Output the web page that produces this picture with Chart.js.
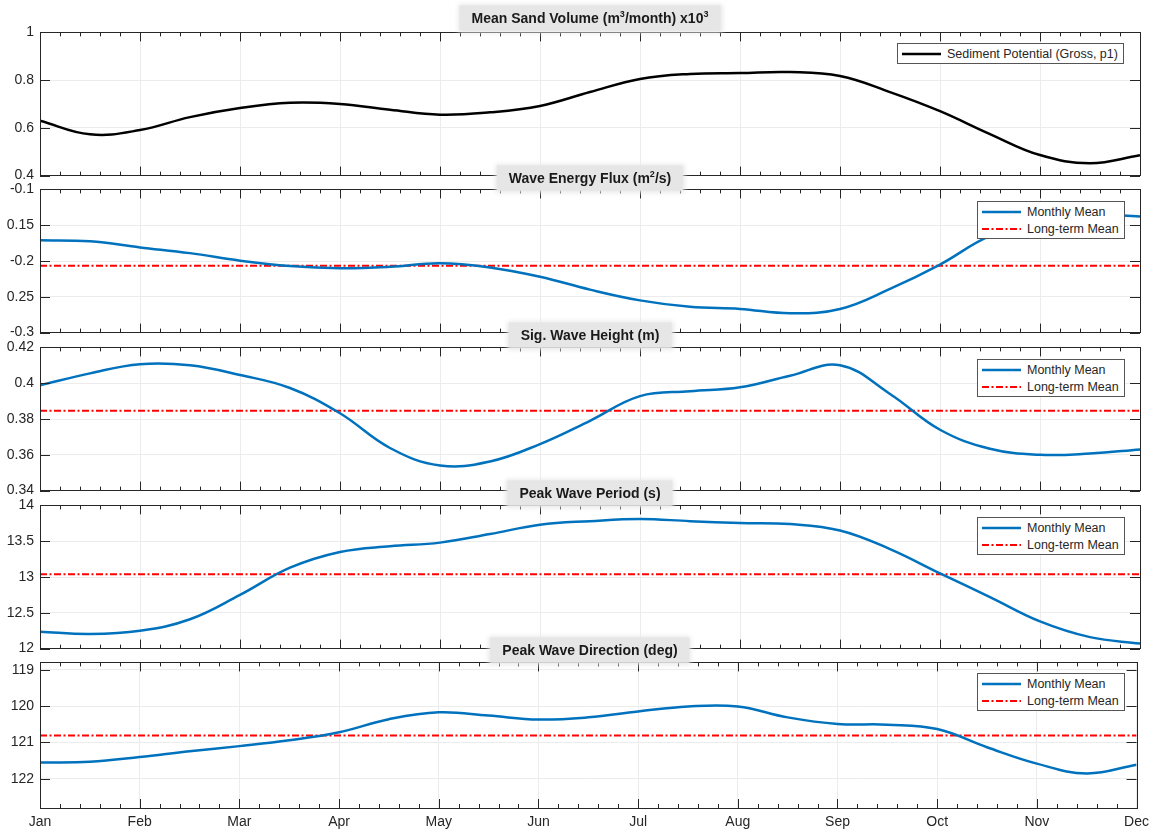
<!DOCTYPE html>
<html>
<head>
<meta charset="utf-8">
<script src="https://cdn.jsdelivr.net/npm/chart.js@4.4.0/dist/chart.umd.min.js"></script>
<style>
  html, body { margin: 0; padding: 0; background: #fff; }
  #wrap { position: relative; width: 1155px; height: 832px; overflow: hidden; font-family: "Liberation Sans", Arial, sans-serif; }
  .panel { position: absolute; left: 0; width: 1155px; }
  .ttl { position: absolute; transform: translate(-50%, -50%); background: #e6e6e6; box-shadow: 0 0 5px 2px #e6e6e6;
         font-weight: bold; font-size: 14px; line-height: 17px; padding: 4px 12px; white-space: nowrap; color: #1a1a1a; z-index: 5; }
  .ttl sup { font-size: 9px; line-height: 0; }
  .lg { position: absolute; background: #fff; border: 1px solid #555; font-size: 12.5px; color: #262626; z-index: 4; padding: 1px 5px 1px 4px; }
  .lg div { display: flex; align-items: center; height: 17px; white-space: nowrap; }
  .lg svg { margin-right: 6px; }
</style>
</head>
<body>
<div id="wrap"></div>
<script>
const months = ["Jan", "Feb", "Mar", "Apr", "May", "Jun", "Jul", "Aug", "Sep", "Oct", "Nov", "Dec"];
const monthPos = [0, 1, 2, 3, 4, 5, 6, 7, 8, 9, 10, 11];
const samplePos = [0, 0.5, 1, 1.5, 2, 2.5, 3, 3.5, 4, 4.5, 5, 5.5, 6, 6.5, 7, 7.5, 8, 8.5, 9, 9.5, 10, 10.5, 11];

const sandVolume = [0.63, 0.573, 0.591, 0.645, 0.683, 0.705, 0.70, 0.676, 0.655, 0.665, 0.692, 0.75,
  0.805, 0.826, 0.83, 0.834, 0.817, 0.75, 0.67, 0.574, 0.486, 0.452, 0.485];
const sandTicks = [0.4, 0.6, 0.8, 1];
const sandTickLabels = ["0.4", "0.6", "0.8", "1"];

const energyFlux = [-0.171, -0.1725, -0.181, -0.189, -0.1995, -0.207, -0.210, -0.208, -0.203, -0.209, -0.222, -0.24,
  -0.255, -0.264, -0.267, -0.273, -0.267, -0.239, -0.205, -0.165, -0.145, -0.135, -0.138];
const energyFluxMean = -0.2065;
const fluxTicks = [-0.3, -0.25, -0.2, -0.15, -0.1];
const fluxTickLabels = ["-0.3", "0.25", "-0.2", "0.15", "-0.1"];

const waveHeight = [0.3988, 0.4055, 0.4106, 0.410, 0.4046, 0.3973, 0.3832, 0.3638, 0.354, 0.3563, 0.366, 0.379,
  0.3928, 0.3955, 0.3977, 0.4042, 0.410, 0.394, 0.374, 0.3634, 0.360, 0.3607, 0.363];
const waveHeightMean = 0.3846;
const heightTicks = [0.34, 0.36, 0.38, 0.4, 0.42];
const heightTickLabels = ["0.34", "0.36", "0.38", "0.4", "0.42"];

const wavePeriod = [12.236, 12.204, 12.25, 12.41, 12.75, 13.13, 13.35, 13.43, 13.48, 13.6, 13.73, 13.78,
  13.81, 13.78, 13.755, 13.74, 13.65, 13.39, 13.05, 12.72, 12.38, 12.16, 12.07];
const wavePeriodMean = 13.04;
const periodTicks = [12, 12.5, 13, 13.5, 14];
const periodTickLabels = ["12", "12.5", "13", "13.5", "14"];

const waveDir = [121.55, 121.53, 121.40, 121.24, 121.10, 120.94, 120.72, 120.36, 120.17, 120.26, 120.37, 120.31,
  120.15, 120.01, 120.01, 120.31, 120.49, 120.51, 120.63, 121.13, 121.58, 121.85, 121.61];
const waveDirMean = 120.81;
const dirTicks = [119, 120, 121, 122];
const dirTickLabels = ["119", "120", "121", "122"];

const BLUE = "#0072BD";
const RED = "#ff0000";
const INK = "#262626";
const DASHDOT = [7, 2.5, 2, 2.5];

const wrap = document.getElementById("wrap");

function pts(ys) {
  return samplePos.map((x, i) => ({ x, y: ys[i] }));
}

// boxed axes with inward ticks, MATLAB style
const frame = {
  id: "frame",
  afterDatasetsDraw(chart) {
    const { ctx, chartArea: a, scales } = chart;
    const x = scales.x, y = scales.y;
    ctx.save();
    ctx.strokeStyle = INK;
    ctx.lineWidth = 1;
    ctx.beginPath();
    for (let i = 0; i <= 55; i++) {
      const px = Math.round(x.getPixelForValue(i / 5)) + 0.5;
      const len = i % 5 === 0 ? 9 : 4;
      ctx.moveTo(px, a.top); ctx.lineTo(px, a.top + len);
      ctx.moveTo(px, a.bottom); ctx.lineTo(px, a.bottom - len);
    }
    y.ticks.forEach((t) => {
      const py = Math.round(y.getPixelForValue(t.value)) + 0.5;
      ctx.moveTo(a.left, py); ctx.lineTo(a.left + 10, py);
      ctx.moveTo(a.right, py); ctx.lineTo(a.right - 10, py);
    });
    ctx.stroke();
    ctx.strokeRect(Math.round(a.left) + 0.5, Math.round(a.top) + 0.5, Math.round(a.right - a.left), Math.round(a.bottom - a.top));
    ctx.restore();
  },
};

function addTitle(html, cy) {
  const d = document.createElement("div");
  d.className = "ttl";
  d.style.left = "590px";
  d.style.top = cy + "px";
  d.innerHTML = html;
  wrap.appendChild(d);
}

function sample(color, dash) {
  const da = dash ? ` stroke-dasharray="${dash.join(",")}"` : "";
  return `<svg width="39" height="6"><line x1="0" y1="3" x2="39" y2="3" stroke="${color}" stroke-width="${dash ? 2 : 2.5}"${da}/></svg>`;
}

function addLegend(rows, left, top) {
  const d = document.createElement("div");
  d.className = "lg";
  d.style.left = left + "px";
  d.style.top = top + "px";
  d.innerHTML = rows.map(([label, color, dash]) => `<div>${sample(color, dash)}${label}</div>`).join("");
  wrap.appendChild(d);
}

function makePanel(p) {
  const last = !!p.last;
  const padTop = 12;
  const axisH = last ? 24 : 0;
  const padBottom = last ? 0 : 12;
  const h = padTop + p.height + axisH + padBottom;

  const box = document.createElement("div");
  box.className = "panel";
  box.style.top = (p.top - padTop) + "px";
  box.style.height = h + "px";
  const cv = document.createElement("canvas");
  box.appendChild(cv);
  wrap.appendChild(box);

  const datasets = [{
    data: pts(p.values),
    borderColor: p.color,
    borderWidth: 2.5,
    pointRadius: 0,
    tension: 0.4,
    fill: false,
  }];
  if (p.mean !== undefined) {
    datasets.push({
      data: [{ x: monthPos[0], y: p.mean }, { x: monthPos[11], y: p.mean }],
      borderColor: RED,
      borderWidth: 2,
      borderDash: DASHDOT,
      pointRadius: 0,
      fill: false,
    });
  }

  new Chart(cv, {
    type: "line",
    data: { datasets },
    options: {
      responsive: true,
      maintainAspectRatio: false,
      animation: false,
      layout: { padding: { top: padTop, bottom: padBottom, left: 0, right: 15 } },
      plugins: { legend: { display: false }, tooltip: { enabled: false } },
      scales: {
        x: {
          type: "linear",
          min: 0,
          max: 11,
          afterBuildTicks: (s) => { s.ticks = monthPos.map((v) => ({ value: v })); },
          afterFit: (s) => { s.height = axisH; },
          grid: { color: "#ececec", drawTicks: false },
          border: { display: false },
          ticks: {
            display: last,
            padding: 6,
            color: INK,
            font: { family: "Liberation Sans", size: 14 },
            maxRotation: 0,
            callback: (v) => months[v],
          },
        },
        y: {
          min: p.min,
          max: p.max,
          reverse: !!p.reverse,
          afterBuildTicks: (s) => { s.ticks = p.ticks.map((v) => ({ value: v })); },
          afterFit: (s) => { s.width = 40; },
          grid: { color: "#ececec", drawTicks: false },
          border: { display: false },
          ticks: {
            padding: 6,
            color: INK,
            font: { family: "Liberation Sans", size: 14 },
            callback: (v) => {
              const i = p.ticks.findIndex((t) => Math.abs(t - v) < 1e-9);
              return i >= 0 ? p.tickLabels[i] : "";
            },
          },
        },
      },
    },
    plugins: [frame],
  });
}

const monthlyRows = [["Monthly Mean", BLUE, null], ["Long-term Mean", RED, DASHDOT]];

makePanel({ top: 30, height: 148, values: sandVolume, color: "#000", min: 0.4, max: 1, ticks: sandTicks, tickLabels: sandTickLabels });
makePanel({ top: 187, height: 148, values: energyFlux, mean: energyFluxMean, color: BLUE, min: -0.3, max: -0.1, ticks: fluxTicks, tickLabels: fluxTickLabels });
makePanel({ top: 345, height: 148, values: waveHeight, mean: waveHeightMean, color: BLUE, min: 0.34, max: 0.42, ticks: heightTicks, tickLabels: heightTickLabels });
makePanel({ top: 503, height: 148, values: wavePeriod, mean: wavePeriodMean, color: BLUE, min: 12, max: 14, ticks: periodTicks, tickLabels: periodTickLabels });
makePanel({ top: 660, height: 148, values: waveDir, mean: waveDirMean, color: BLUE, min: 118.8, max: 122.8, reverse: true, ticks: dirTicks, tickLabels: dirTickLabels, last: true });

addTitle("Mean Sand Volume (m<sup>3</sup>/month) x10<sup>3</sup>", 18);
addTitle("Wave Energy Flux (m<sup>2</sup>/s)", 178);
addTitle("Sig. Wave Height (m)", 335);
addTitle("Peak Wave Period (s)", 493);
addTitle("Peak Wave Direction (deg)", 650);

addLegend([["Sediment Potential (Gross, p1)", "#000", null]], 897, 43);
addLegend(monthlyRows, 977, 201);
addLegend(monthlyRows, 977, 359);
addLegend(monthlyRows, 977, 517);
addLegend(monthlyRows, 977, 673);
</script>
</body>
</html>
